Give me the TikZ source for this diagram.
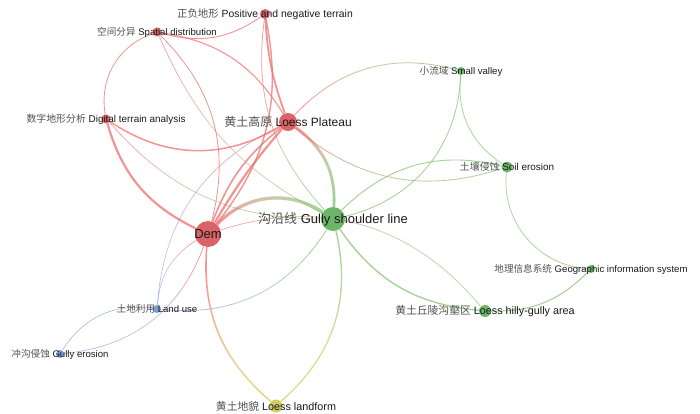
\documentclass[tikz,border=0pt]{standalone}
\usepackage{fontspec}
\setmainfont{Liberation Sans}
\newfontfamily\cjk{Noto Sans CJK SC}
\usetikzlibrary{backgrounds,fadings}
\definecolor{NR}{RGB}{214,86,90}
\definecolor{NG}{RGB}{96,176,92}
\definecolor{NB}{RGB}{108,152,206}
\definecolor{NY}{RGB}{206,200,84}
\definecolor{ER}{RGB}{238,112,112}
\definecolor{EG}{RGB}{130,194,110}
\definecolor{EB}{RGB}{140,172,222}
\definecolor{EY}{RGB}{214,206,90}
\definecolor{TL}{RGB}{25,25,25}
\definecolor{TC}{RGB}{80,80,80}
\pgfdeclarehorizontalshading{toBshade}{300bp}{color(0bp)=(black); color(122bp)=(black); color(178bp)=(white); color(300bp)=(white)}
\pgfdeclarefading{toB}{\pgfuseshading{toBshade}}
\newcommand\cj[1]{{\cjk\color{TC}#1}}
% style, from, bend, to, colour A, colour B, angle A->B
\newcommand\medge[7]{%
  \pgfmathsetmacro\backang{#7+180}%
  \draw[#1, draw=#5, path fading=toB, fading angle=\backang] (#2) to[#3] (#4);
  \draw[#1, draw=#6, path fading=toB, fading angle=#7] (#2) to[#3] (#4);}
\begin{document}
\begin{tikzpicture}[x=1pt,y=1pt,
  nd/.style={circle, inner sep=0pt, minimum size=#1, draw=none, fill opacity=0.92},
  lbl/.style={inner sep=0pt, text=TL},
  sm/.style={font=\fontsize{9.6}{11}\selectfont},
  ed/.style={line width=#1, opacity=0.75}]
\useasboundingbox (0,0) rectangle (700,413);
% nodes
\node[nd=26, fill=NR] (dem) at (208,179) {};
\node[nd=24, fill=NG] (gsl) at (333,194) {};
\node[nd=18, fill=NR] (lp) at (288,291) {};
\node[nd=10, fill=NR] (pn) at (265,399) {};
\node[nd=9, fill=NR] (sd) at (157,381) {};
\node[nd=9, fill=NR] (dta) at (106,294) {};
\node[nd=8, fill=NG] (sv) at (461,342) {};
\node[nd=11, fill=NG] (se) at (507,246) {};
\node[nd=8, fill=NG] (gis) at (591,144) {};
\node[nd=12, fill=NG] (lhg) at (485,102) {};
\node[nd=8, fill=NB] (lu) at (157,104) {};
\node[nd=8, fill=NB] (ge) at (60,59) {};
\node[nd=13, fill=NY] (ll) at (276,7) {};
% edges
\begin{scope}[on background layer]
\draw[ER, ed=0.9] (sd) to[bend right=25] (pn);
\draw[ER, ed=0.8] (sd) to[bend right=40] (dta);
\draw[ER, ed=1.1] (sd) to[bend left=25] (lp);
\medge{ed=0.6}{sd}{bend right=19}{gsl}{ER}{EG}{-45}
\draw[ER, ed=0.8] (sd) to[bend left=30] (dem);
\draw[ER, ed=1.5] (dta) to[bend right=32] (lp);
\draw[ER, ed=2.2] (dta) to[bend right=24] (dem);
\medge{ed=0.6}{dta}{bend right=24}{gsl}{ER}{EG}{-40}
\draw[ER, ed=1.8] (pn) to[bend right=8] (lp);
\draw[ER, ed=1.4] (pn) to[bend left=25] (dem);
\medge{ed=0.7}{pn}{bend right=25}{gsl}{ER}{EG}{-45}
\draw[ER, ed=2.2] (lp) to[bend right=5] (dem);
\draw[ER, ed=1.6] (lp) to[bend right=15] (dem);
\medge{ed=2.8}{lp}{bend left=29}{gsl}{ER}{EG}{-45}
\medge{ed=0.8}{lp}{bend left=31}{sv}{ER}{EG}{35}
\medge{ed=0.8}{lp}{bend right=29}{se}{ER}{EG}{-33}
\medge{ed=3.2}{dem}{bend left=40}{gsl}{ER}{EG}{15}
\medge{ed=0.6}{dem}{bend left=34}{lhg}{ER}{EG}{-39}
\medge{ed=0.6}{dem}{bend right=27}{lu}{ER}{EB}{-135}
\medge{ed=0.7}{dem}{bend left=32}{ge}{ER}{EB}{-135}
\medge{ed=1.6}{dem}{bend right=27}{ll}{ER}{EY}{-45}
\draw[EB, ed=0.7] (lu) to[bend right=33] (ge);
\medge{ed=0.6}{lu}{bend left=30}{lp}{EB}{ER}{45}
\medge{ed=0.8}{lu}{bend right=32}{gsl}{EB}{EG}{45}
\medge{ed=1.3}{gsl}{bend left=31}{ll}{EG}{EY}{-131}
\draw[EG, ed=0.8] (gsl) to[bend right=37] (sv);
\draw[EG, ed=0.9] (gsl) to[bend left=29] (se);
\draw[EG, ed=1.3] (gsl) to[bend right=25] (lhg);
\draw[EG, ed=0.7] (sv) to[bend right=31] (se);
\draw[EG, ed=0.7] (se) to[bend right=46] (gis);
\draw[EG, ed=1.0] (lhg) to[bend right=23] (gis);
\end{scope}
% labels
\node[lbl, font=\fontsize{13}{15}\selectfont] (demL) at (dem) {Dem};
\node[lbl, font=\fontsize{13}{15}\selectfont] (gslL) at (gsl) {\cj{沟沿线} Gully shoulder line};
\node[lbl, font=\fontsize{12}{14}\selectfont] (lpL) at (lp) {\cj{黄土高原} Loess Plateau};
\node[lbl, font=\fontsize{10.4}{12}\selectfont] (pnL) at (pn) {\cj{正负地形} Positive and negative terrain};
\node[lbl, sm] (sdL) at (sd) {\cj{空间分异} Spatial distribution};
\node[lbl, font=\fontsize{9.9}{11}\selectfont] (dtaL) at (dta) {\cj{数字地形分析} Digital terrain analysis};
\node[lbl, sm] (svL) at (sv) {\cj{小流域} Small valley};
\node[lbl, font=\fontsize{9.9}{11}\selectfont] (seL) at (se) {\cj{土壤侵蚀} Soil erosion};
\node[lbl, sm] (gisL) at (gis) {\cj{地理信息系统} Geographic information system};
\node[lbl, font=\fontsize{10.8}{12}\selectfont] (lhgL) at (lhg) {\cj{黄土丘陵沟壑区} Loess hilly-gully area};
\node[lbl, sm] (luL) at (lu) {\cj{土地利用} Land use};
\node[lbl, sm] (geL) at (ge) {\cj{冲沟侵蚀} Gully erosion};
\node[lbl, font=\fontsize{10.8}{12}\selectfont] (llL) at (ll) {\cj{黄土地貌} Loess landform};
\end{tikzpicture}
\end{document}
